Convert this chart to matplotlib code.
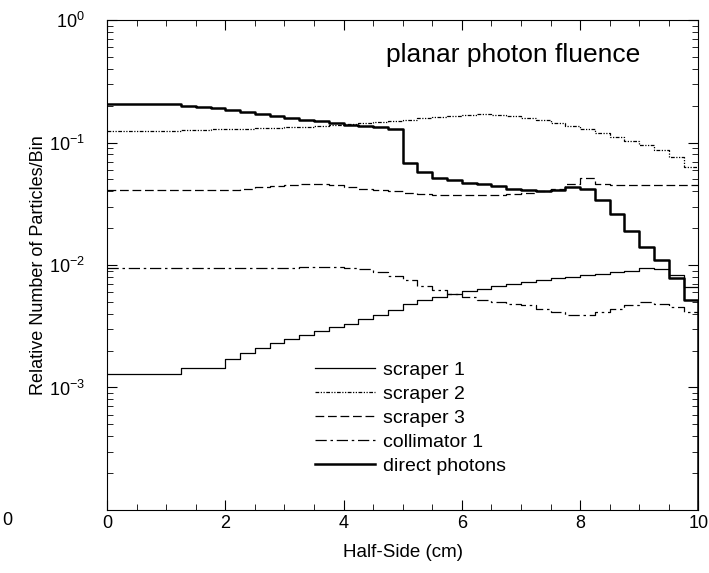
import numpy as np
import matplotlib
matplotlib.use("Agg")
import matplotlib.pyplot as plt

plt.rcParams['font.family'] = ['Liberation Sans', 'DejaVu Sans']
plt.rcParams['mathtext.fontset'] = 'custom'
plt.rcParams['mathtext.rm'] = 'Liberation Sans'
plt.rcParams['mathtext.it'] = 'Liberation Sans:italic'

# bin edges, 0.25 cm wide
edges = np.linspace(0, 10, 41)

scraper1 = [0.0013, 0.0013, 0.0013, 0.0013, 0.0013, 0.00145, 0.00145, 0.00145,
            0.0017, 0.0019, 0.0021, 0.0023, 0.0025, 0.0027, 0.0029, 0.0031,
            0.0033, 0.0036, 0.0039, 0.0043, 0.0048, 0.0052, 0.0055, 0.0058,
            0.0061, 0.0064, 0.0067, 0.007, 0.0073, 0.0076, 0.0078, 0.008,
            0.0083, 0.0085, 0.0087, 0.009, 0.0095, 0.0092, 0.0083, 0.0066]

scraper2 = [0.124, 0.124, 0.124, 0.124, 0.125, 0.126, 0.127, 0.128,
            0.129, 0.130, 0.131, 0.132, 0.133, 0.134, 0.136, 0.138,
            0.141, 0.144, 0.147, 0.150, 0.154, 0.158, 0.162, 0.165,
            0.168, 0.170, 0.168, 0.164, 0.159, 0.153, 0.145, 0.136,
            0.128, 0.120, 0.111, 0.103, 0.095, 0.087, 0.076, 0.063]

scraper3 = [0.041, 0.041, 0.041, 0.041, 0.041, 0.041, 0.041, 0.041,
            0.041, 0.042, 0.043, 0.044, 0.045, 0.046, 0.046, 0.045,
            0.043, 0.042, 0.041, 0.040, 0.039, 0.038, 0.037, 0.037,
            0.037, 0.037, 0.037, 0.038, 0.039, 0.040, 0.042, 0.046,
            0.051, 0.046, 0.045, 0.045, 0.045, 0.045, 0.045, 0.045]

collimator1 = [0.0095, 0.0095, 0.0095, 0.0095, 0.0095, 0.0095, 0.0095, 0.0095,
               0.0095, 0.0095, 0.0095, 0.0095, 0.0095, 0.0096, 0.0097, 0.0096,
               0.0094, 0.0092, 0.0088, 0.0082, 0.0075, 0.0068, 0.0062, 0.0058,
               0.0055, 0.0052, 0.005, 0.0048, 0.0047, 0.0044, 0.0041, 0.0039,
               0.0039, 0.0041, 0.0044, 0.0047, 0.005, 0.0048, 0.0045, 0.0041]

direct = [0.206, 0.206, 0.206, 0.206, 0.206, 0.198, 0.195, 0.19,
          0.184, 0.177, 0.171, 0.165, 0.159, 0.153, 0.150, 0.144,
          0.139, 0.137, 0.134, 0.129, 0.068, 0.057, 0.051, 0.049,
          0.047, 0.046, 0.044, 0.042, 0.041, 0.040, 0.041, 0.043,
          0.042, 0.034, 0.026, 0.019, 0.014, 0.011, 0.0078, 0.0052]

series = [
    ("scraper 1", scraper1, '-', 0.9),
    ("scraper 2", scraper2, (0, (3, 1.2, 1, 1.2, 1, 1.2)), 0.9),
    ("scraper 3", scraper3, (0, (7, 3)), 0.9),
    ("collimator 1", collimator1, (0, (9, 3, 2, 3)), 0.9),
    ("direct photons", direct, '-', 1.8),
]

fig = plt.figure(figsize=(7.09, 5.73), dpi=100)
ax = fig.add_axes([0.151, 0.110, 0.834, 0.855])

for name, vals, ls, lw in series:
    xs = np.append(edges[:-1], edges[-1])
    ys = np.append(vals, vals[-1])
    ax.step(xs, ys, where='post', color='black', linestyle=ls, linewidth=lw, label=name)

ax.set_yscale('log')
ax.set_xlim(0, 10)
ax.set_ylim(1e-4, 1)
# direct photons fall to zero at the field edge
ax.vlines(edges[-1], 1e-4, direct[-1], color='black', linewidth=1.8)

ax.set_xticks([0, 2, 4, 6, 8, 10])
ax.set_yticks([1e-3, 1e-2, 1e-1, 1])
ax.set_yticklabels([r'$10^{-3}$', r'$10^{-2}$', r'$10^{-1}$', r'$10^{0}$'])
ax.tick_params(axis='both', which='both', direction='in', top=True, right=True, labelsize=13)
ax.tick_params(axis='y', which='major', pad=16)
ax.tick_params(which='major', length=7)
ax.tick_params(which='minor', length=4)
ax.xaxis.set_minor_locator(matplotlib.ticker.MultipleLocator(0.5))

ax.set_xlabel('Half-Side (cm)', fontsize=13.5, labelpad=9)
ax.set_ylabel('Relative Number of Particles/Bin', fontsize=13, labelpad=1)

ax.text(0.902, 0.929, 'planar photon fluence', transform=ax.transAxes,
        ha='right', va='center', fontsize=19)
fig.text(0.003, 0.092, '0', fontsize=13, ha='left', va='center')

ax.legend(loc='upper left', bbox_to_anchor=(0.352, 0.303), frameon=False,
          borderpad=0, borderaxespad=0, fontsize=14, handlelength=3.1,
          handletextpad=0.4, labelspacing=0.33)

fig.savefig('out.png', dpi=100)
